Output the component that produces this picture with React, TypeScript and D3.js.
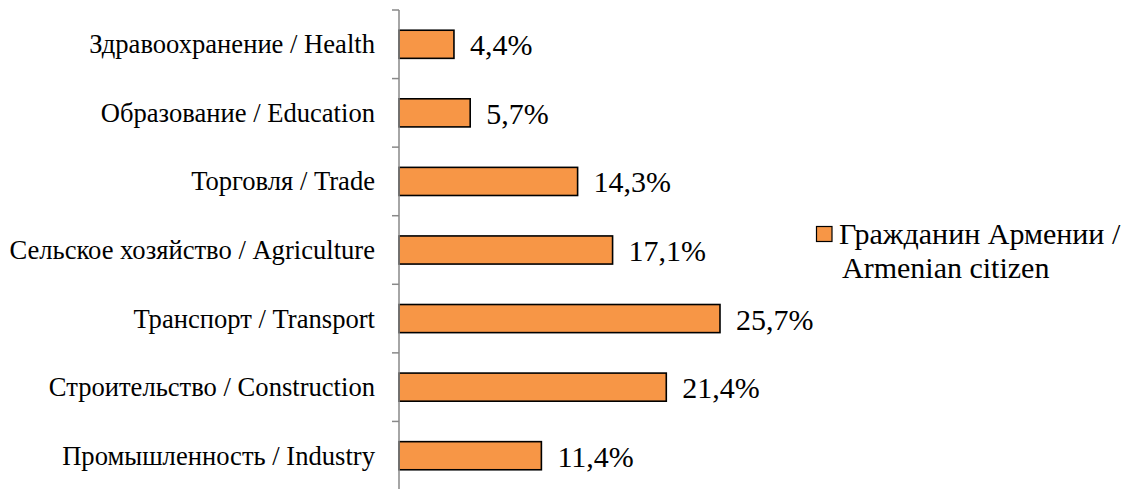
import React from "react";
import * as d3 from "d3";

const categories = [
  "Здравоохранение / Health",
  "Образование / Education",
  "Торговля / Trade",
  "Сельское хозяйство / Agriculture",
  "Транспорт / Transport",
  "Строительство / Construction",
  "Промышленность / Industry",
];
const values = [4.4, 5.7, 14.3, 17.1, 25.7, 21.4, 11.4];
const valueLabels = ["4,4%", "5,7%", "14,3%", "17,1%", "25,7%", "21,4%", "11,4%"];
const legendLines = ["Гражданин Армении /", "Armenian citizen"];

const W = 1141;
const H = 489;
const FONT = "'Liberation Serif', 'Times New Roman', serif";
const FILL = "#F79646";

export default function App() {
  const axisX = 399;
  const y = d3
    .scaleBand<string>()
    .domain(categories)
    .range([10, 490])
    .paddingInner(0.59)
    .paddingOuter(0.295);
  const x = d3.scaleLinear().domain([0, 30]).range([axisX, axisX + 374.7]);
  const step = y.step();
  const top = y.range()[0];
  const tickYs = d3.range(categories.length + 1).map((i) => top + i * step);

  return (
    <svg
      width={W}
      height={H}
      style={{ position: "absolute", left: 0, top: 0, background: "#fff" }}
    >
      {categories.map((c, i) => {
        const by = y(c)!;
        const bh = y.bandwidth();
        const cy = by + bh / 2;
        return (
          <g key={c}>
            <rect
              x={x(0)}
              y={by}
              width={x(values[i]) - x(0)}
              height={bh}
              fill={FILL}
              stroke="#000"
              strokeWidth={1.6}
            />
            <text
              x={x(values[i]) + 16}
              y={cy + 11}
              fontFamily={FONT}
              fontSize={30}
              fill="#000"
            >
              {valueLabels[i]}
            </text>
            <text
              x={axisX - 24}
              y={cy + 9}
              fontFamily={FONT}
              fontSize={26.6}
              textAnchor="end"
              fill="#000"
            >
              {c}
            </text>
          </g>
        );
      })}
      <line x1={axisX} x2={axisX} y1={top} y2={490} stroke="#898989" strokeWidth={1.5} />
      {tickYs.map((ty, i) => (
        <line key={i} x1={axisX - 7} x2={axisX} y1={ty} y2={ty} stroke="#898989" strokeWidth={1.5} />
      ))}
      <rect x={816.5} y={226.5} width={15.5} height={15} fill={FILL} stroke="#000" strokeWidth={1.2} />
      {legendLines.map((l, i) => (
        <text
          key={l}
          x={i === 0 ? 839 : 842}
          y={244 + i * 34}
          fontFamily={FONT}
          fontSize={30}
          fill="#000"
        >
          {l}
        </text>
      ))}
    </svg>
  );
}
